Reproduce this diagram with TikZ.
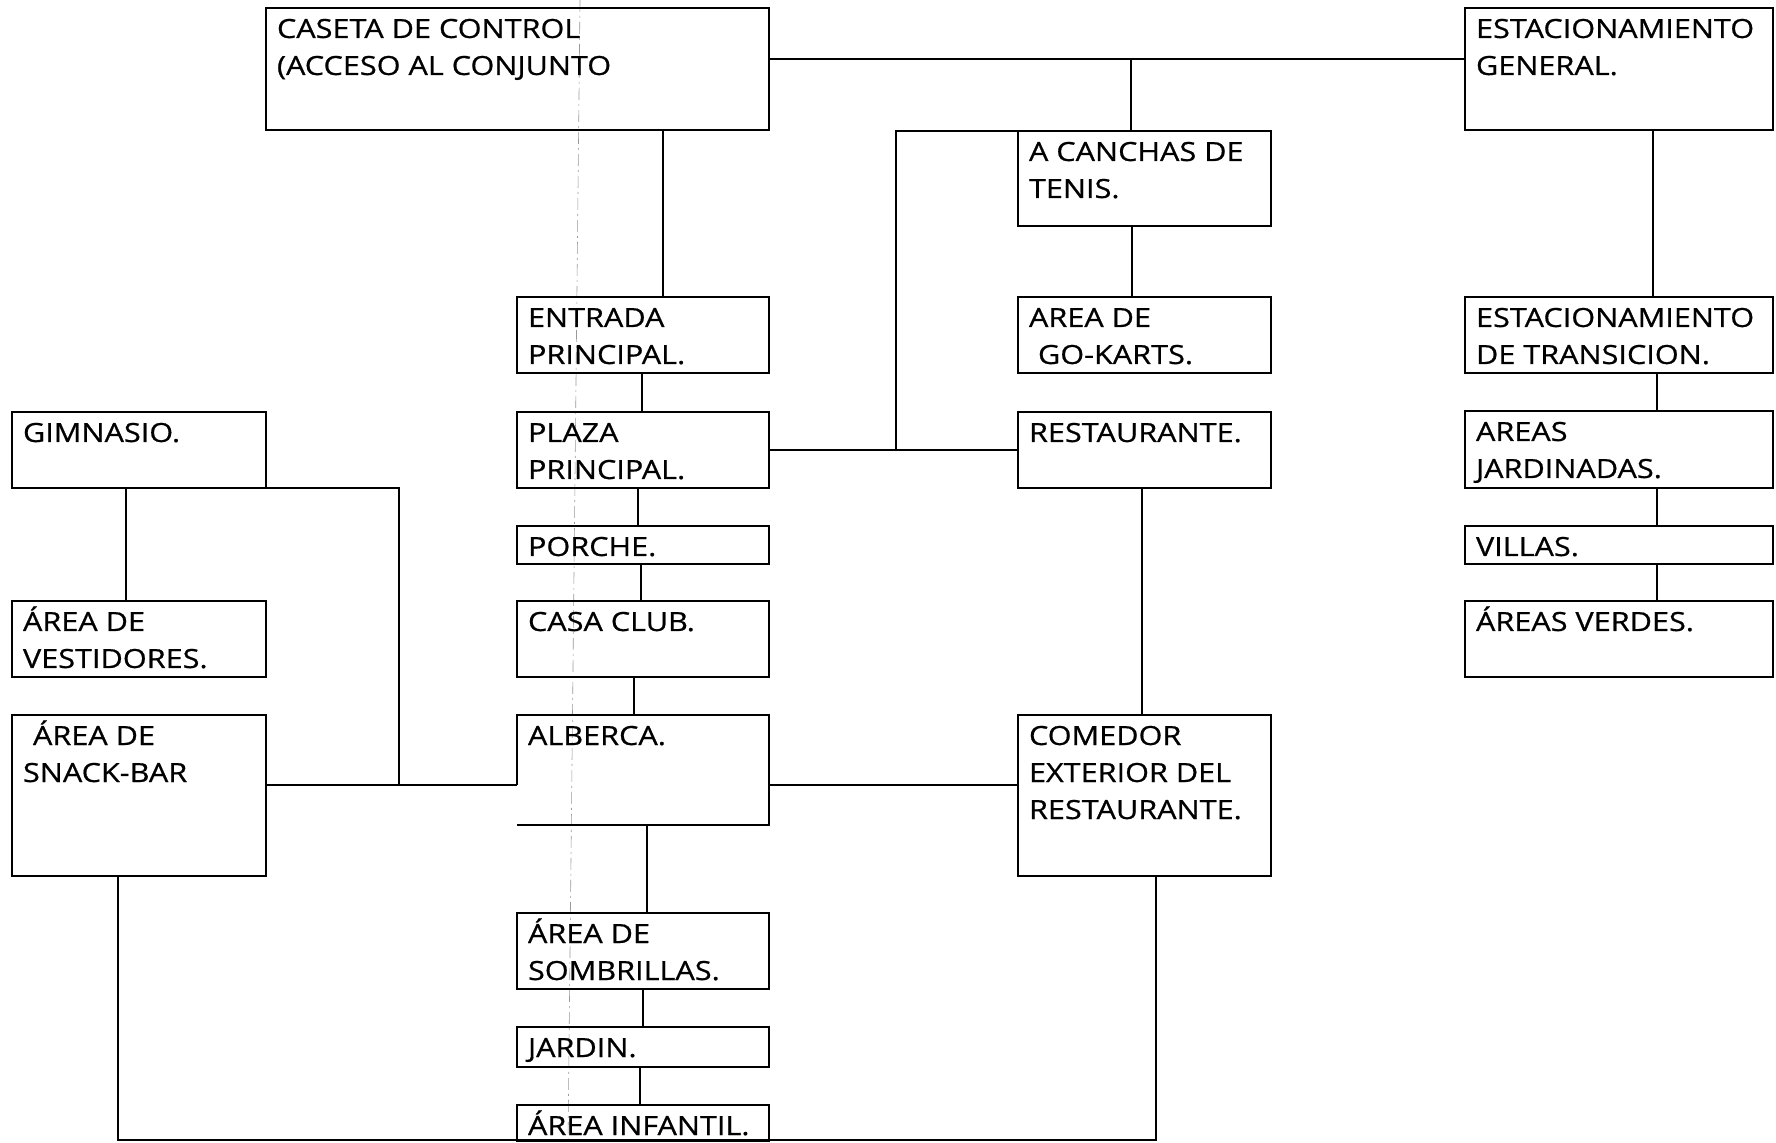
\documentclass[tikz,border=0pt]{standalone}
\usepackage{fontspec}
\setmainfont{Open Sans}[FakeStretch=1.16, FakeBold=0.7]
\begin{document}
\begin{tikzpicture}[x=0.5pt,y=-0.5pt,
  box/.style={draw=black, line width=0.9pt, rectangle, inner sep=0pt, outer sep=0pt},
  nobox/.style={rectangle, inner sep=0pt, outer sep=0pt},
  txt/.style={anchor=north west, inner sep=0pt, outer sep=0pt, align=left,
    font=\fontsize{13.2}{18.5}\selectfont},
  con/.style={draw=black, line width=0.9pt},
  fold/.style={draw=black!40, line width=0.3pt, dash pattern=on 6pt off 2pt on 1pt off 2pt}]
\useasboundingbox (0,0) rectangle (1776,1143);
\fill[white] (0,0) rectangle (1776,1143);
% box macro: [style] name, x1, y1, x2, y2, text
\newcommand\bx[7][box]{%
  \node[#1, minimum width={(#5-#3)*0.5pt}, minimum height={(#6-#4)*0.5pt}]
    (#2) at ({(#3+#5)/2},{(#4+#6)/2}) {};
  \node[txt] (#2-t) at ([xshift=5.5pt]#2.north west) {\rule{0pt}{15pt}#7};}

% scan fold line
\draw[fold] (580,0) -- (568,1143);

% top row
\bx{caseta}{266}{8}{769}{130}{CASETA DE CONTROL\\(ACCESO AL CONJUNTO}
\bx{estg}{1465}{8}{1773}{130}{ESTACIONAMIENTO\\GENERAL.}
% centre-right column
\bx{canchas}{1018}{131}{1271}{226}{A CANCHAS DE\\TENIS.}
\bx{karts}{1018}{297}{1271}{373}{AREA DE\\\hspace*{4.5pt}GO-KARTS.}
\bx{rest}{1018}{412}{1271}{488}{RESTAURANTE.}
\bx{comedor}{1018}{715}{1271}{876}{COMEDOR\\EXTERIOR DEL\\RESTAURANTE.}
% centre column
\bx{entrada}{517}{297}{769}{373}{ENTRADA\\PRINCIPAL.}
\bx{plaza}{517}{412}{769}{488}{PLAZA\\PRINCIPAL.}
\bx{porche}{517}{526}{769}{564}{PORCHE.}
\bx{casa}{517}{601}{769}{677}{CASA CLUB.}
\bx[nobox]{alberca}{517}{715}{769}{825}{ALBERCA.}
\bx{sombr}{517}{913}{769}{989}{ÁREA DE\\SOMBRILLAS.}
\bx{jardin}{517}{1027}{769}{1067}{JARDIN.}
\bx{infantil}{517}{1105}{769}{1141}{ÁREA INFANTIL.}
% left column
\bx{gym}{12}{412}{266}{488}{GIMNASIO.}
\bx{vest}{12}{601}{266}{677}{ÁREA DE\\VESTIDORES.}
\bx{snack}{12}{715}{266}{876}{\hspace*{5pt}ÁREA DE\\SNACK-BAR}
% right column
\bx{estt}{1465}{297}{1773}{373}{ESTACIONAMIENTO\\DE TRANSICION.}
\bx{jardinadas}{1465}{411}{1773}{488}{AREAS\\JARDINADAS.}
\bx{villas}{1465}{526}{1773}{564}{VILLAS.}
\bx{verdes}{1465}{601}{1773}{677}{ÁREAS VERDES.}

% junction coordinates
\coordinate (j1) at (1131,59);
\coordinate (j2) at (896,450);
\coordinate (j3) at (399,785);
\coordinate (bl) at (118,1140);
\coordinate (br) at (1156,1140);

% alberca outline with the open lower-left edge
\draw[con] (alberca.west |- j3) -- (alberca.north west) -- (alberca.north east)
  -- (alberca.south east) -- (alberca.south west);

% connectors
\draw[con] (caseta.east |- j1) -- (estg.west |- j1);
\draw[con] (j1) -- (canchas.north -| j1);
\draw[con] (caseta.south -| 663,0) -- (entrada.north -| 663,0);
\draw[con] (entrada.south -| 642,0) -- (plaza.north -| 642,0);
\draw[con] (plaza.south -| 638,0) -- (porche.north -| 638,0);
\draw[con] (porche.south -| 641,0) -- (casa.north -| 641,0);
\draw[con] (casa.south -| 634,0) -- (alberca.north -| 634,0);
\draw[con] (alberca.south -| 647,0) -- (sombr.north -| 647,0);
\draw[con] (sombr.south -| 643,0) -- (jardin.north -| 643,0);
\draw[con] (jardin.south -| 640,0) -- (infantil.north -| 640,0);
\draw[con] (canchas.south -| 1132,0) -- (karts.north -| 1132,0);
\draw[con] (plaza.east |- j2) -- (rest.west |- j2);
\draw[con] (j2) |- (canchas.north west);
\draw[con] (rest.south -| 1142,0) -- (comedor.north -| 1142,0);
\draw[con] (alberca.east |- j3) -- (comedor.west |- j3);
\draw[con] (gym.south -| 126,0) -- (vest.north -| 126,0);
\draw[con] (gym.south east) -| (j3);
\draw[con] (snack.east |- j3) -- (alberca.west |- j3);
\draw[con, line width=0.6pt] (snack.south -| bl) -- (bl) -- (br) -- (comedor.south -| br);
\draw[con] (estg.south -| 1653,0) -- (estt.north -| 1653,0);
\draw[con] (estt.south -| 1657,0) -- (jardinadas.north -| 1657,0);
\draw[con] (jardinadas.south -| 1657,0) -- (villas.north -| 1657,0);
\draw[con] (villas.south -| 1657,0) -- (verdes.north -| 1657,0);
\end{tikzpicture}
\end{document}
